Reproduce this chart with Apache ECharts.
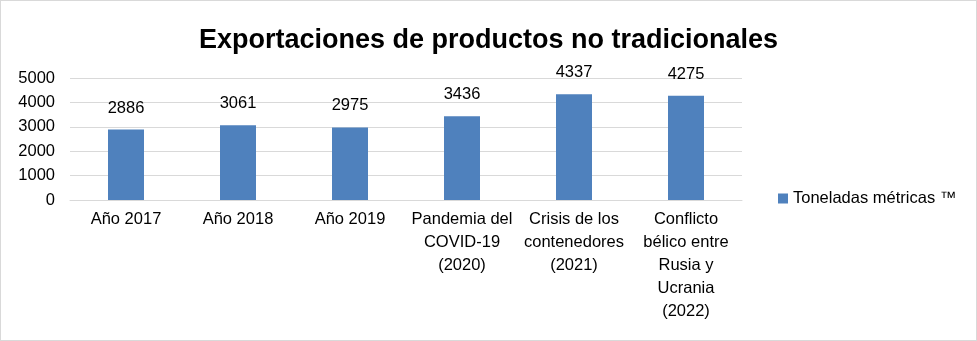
<!DOCTYPE html>
<html>
<head>
<meta charset="utf-8">
<script src="https://cdn.jsdelivr.net/npm/echarts@6/dist/echarts.min.js"></script>
<style>
html, body { margin: 0; padding: 0; background: #fff; }
#chart { width: 975px; height: 339px; border: 1px solid #d9d9d9; }
</style>
</head>
<body>
<div id="chart"></div>
<script>
var categories = ['Año 2017', 'Año 2018', 'Año 2019', 'Pandemia del\nCOVID-19\n(2020)', 'Crisis de los\ncontenedores\n(2021)', 'Conflicto\nbélico entre\nRusia y\nUcrania\n(2022)'];
var toneladas = [2886, 3061, 2975, 3436, 4337, 4275];
var seriesName = 'Toneladas métricas ™';
var fontFam = 'Liberation Sans, Noto Sans, sans-serif';

var myChart = echarts.init(document.getElementById('chart'));
var option = {
	animation: false,
	title: {
		text: 'Exportaciones de productos no tradicionales',
		left: 'center',
		top: 21,
		textStyle: { fontFamily: fontFam, fontSize: 27, fontWeight: 'bold', color: '#000' }
	},
	legend: {
		data: [seriesName],
		orient: 'vertical',
		left: 772,
		top: 184,
		itemWidth: 10,
		itemHeight: 10,
		itemGap: 6,
		icon: 'rect',
		textStyle: { fontFamily: fontFam, fontSize: 16.5, color: '#000' }
	},
	grid: { left: 69, right: 234, top: 77, bottom: 140 },
	xAxis: {
		type: 'category',
		data: categories,
		axisLine: { show: true, lineStyle: { color: '#d9d9d9' } },
		axisTick: { show: false },
		axisLabel: { interval: 0, fontFamily: fontFam, fontSize: 16.5, color: '#000', lineHeight: 23, margin: 8 }
	},
	yAxis: {
		type: 'value',
		min: 0,
		max: 5000,
		interval: 1000,
		axisLine: { show: false },
		axisTick: { show: false },
		splitLine: { lineStyle: { color: '#d9d9d9' } },
		axisLabel: {
			fontFamily: fontFam, fontSize: 16.5, color: '#000', margin: 15,
			formatter: function (v) { return String(v); }
		}
	},
	series: [{
		name: seriesName,
		type: 'bar',
		barWidth: 36,
		data: toneladas,
		itemStyle: { color: '#4f81bd' },
		label: { show: true, position: 'top', distance: 13, fontFamily: fontFam, fontSize: 16.5, color: '#000' }
	}]
};
myChart.setOption(option);
</script>
</body>
</html>
